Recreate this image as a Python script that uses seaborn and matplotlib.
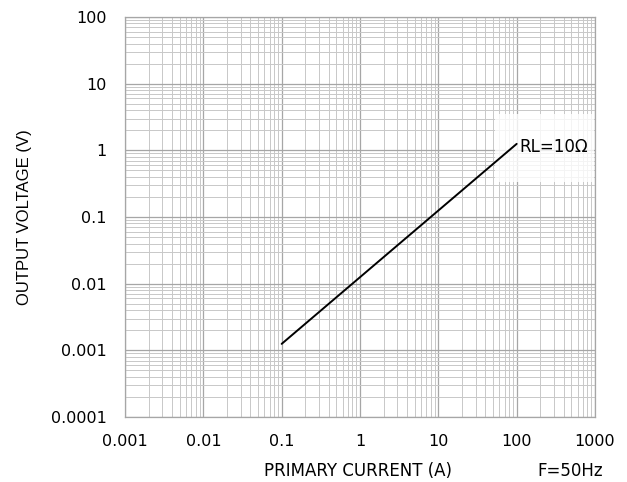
import numpy as np
import matplotlib.pyplot as plt
import seaborn as sns
from matplotlib.patches import Rectangle
from matplotlib.ticker import LogLocator, FixedLocator

sns.set_style("white")
plt.rcParams['font.family'] = ['DejaVu Sans']
plt.rcParams['text.color'] = 'black'
plt.rcParams['axes.labelcolor'] = 'black'

# data
current_a = [0.1, 1, 10, 100]
voltage_v = [0.00125, 0.0125, 0.125, 1.25]
series_label = "RL=10Ω"

x_ticks = [0.001, 0.01, 0.1, 1, 10, 100, 1000]
x_ticklabels = ["0.001", "0.01", "0.1", "1", "10", "100", "1000"]
y_ticks = [0.0001, 0.001, 0.01, 0.1, 1, 10, 100]
y_ticklabels = ["0.0001", "0.001", "0.01", "0.1", "1", "10", "100"]

fig = plt.figure(figsize=(6.27, 4.82), dpi=100)
ax = fig.add_axes([125 / 627, 1 - 417 / 482, 470 / 627, 400 / 482])

sns.lineplot(x=current_a, y=voltage_v, ax=ax, color='black', linewidth=1.4, zorder=4)
ax.set_xscale('log')
ax.set_yscale('log')
ax.set_xlim(0.001, 1000)
ax.set_ylim(0.0001, 100)

ax.xaxis.set_major_locator(FixedLocator(x_ticks))
ax.yaxis.set_major_locator(FixedLocator(y_ticks))
ax.set_xticklabels(x_ticklabels)
ax.set_yticklabels(y_ticklabels)
ax.xaxis.set_minor_locator(LogLocator(base=10, subs=np.arange(2, 10), numticks=20))
ax.yaxis.set_minor_locator(LogLocator(base=10, subs=np.arange(2, 10), numticks=20))
ax.tick_params(which='both', length=0, labelsize=11.5, colors='black')
ax.tick_params(axis='x', pad=12)
ax.tick_params(axis='y', pad=13)
ax.grid(which='major', color='#a6a6a6', linewidth=0.9)
ax.grid(which='minor', color='#c8c8c8', linewidth=0.7)
for s in ax.spines.values():
    s.set_color('#a6a6a6')
    s.set_linewidth(0.9)

ax.set_xlabel('PRIMARY CURRENT (A)', fontsize=12, color='black')
ax.xaxis.set_label_coords(0.495, -0.135)
ax.xaxis.label.set_va('center')
ax.set_ylabel('OUTPUT VOLTAGE (V)', fontsize=12, family=['Liberation Sans'], color='black')
ax.yaxis.set_label_coords(-0.213, 0.5)
ax.yaxis.label.set_va('center')

# translucent label box
ax.add_patch(Rectangle((0.787, 0.5875), 0.211, 0.17, transform=ax.transAxes,
                       facecolor='white', alpha=0.8, edgecolor='none', zorder=3))
ax.text(current_a[-1] * 1.07, voltage_v[-1] * 0.9, series_label, fontsize=12,
        va='center', ha='left', zorder=5, color='black')

fig.text(603 / 627, 1 - 471 / 482, 'F=50Hz', fontsize=12, ha='right', va='center',
         color='black')

plt.savefig('out.png', dpi=100)
plt.close()
